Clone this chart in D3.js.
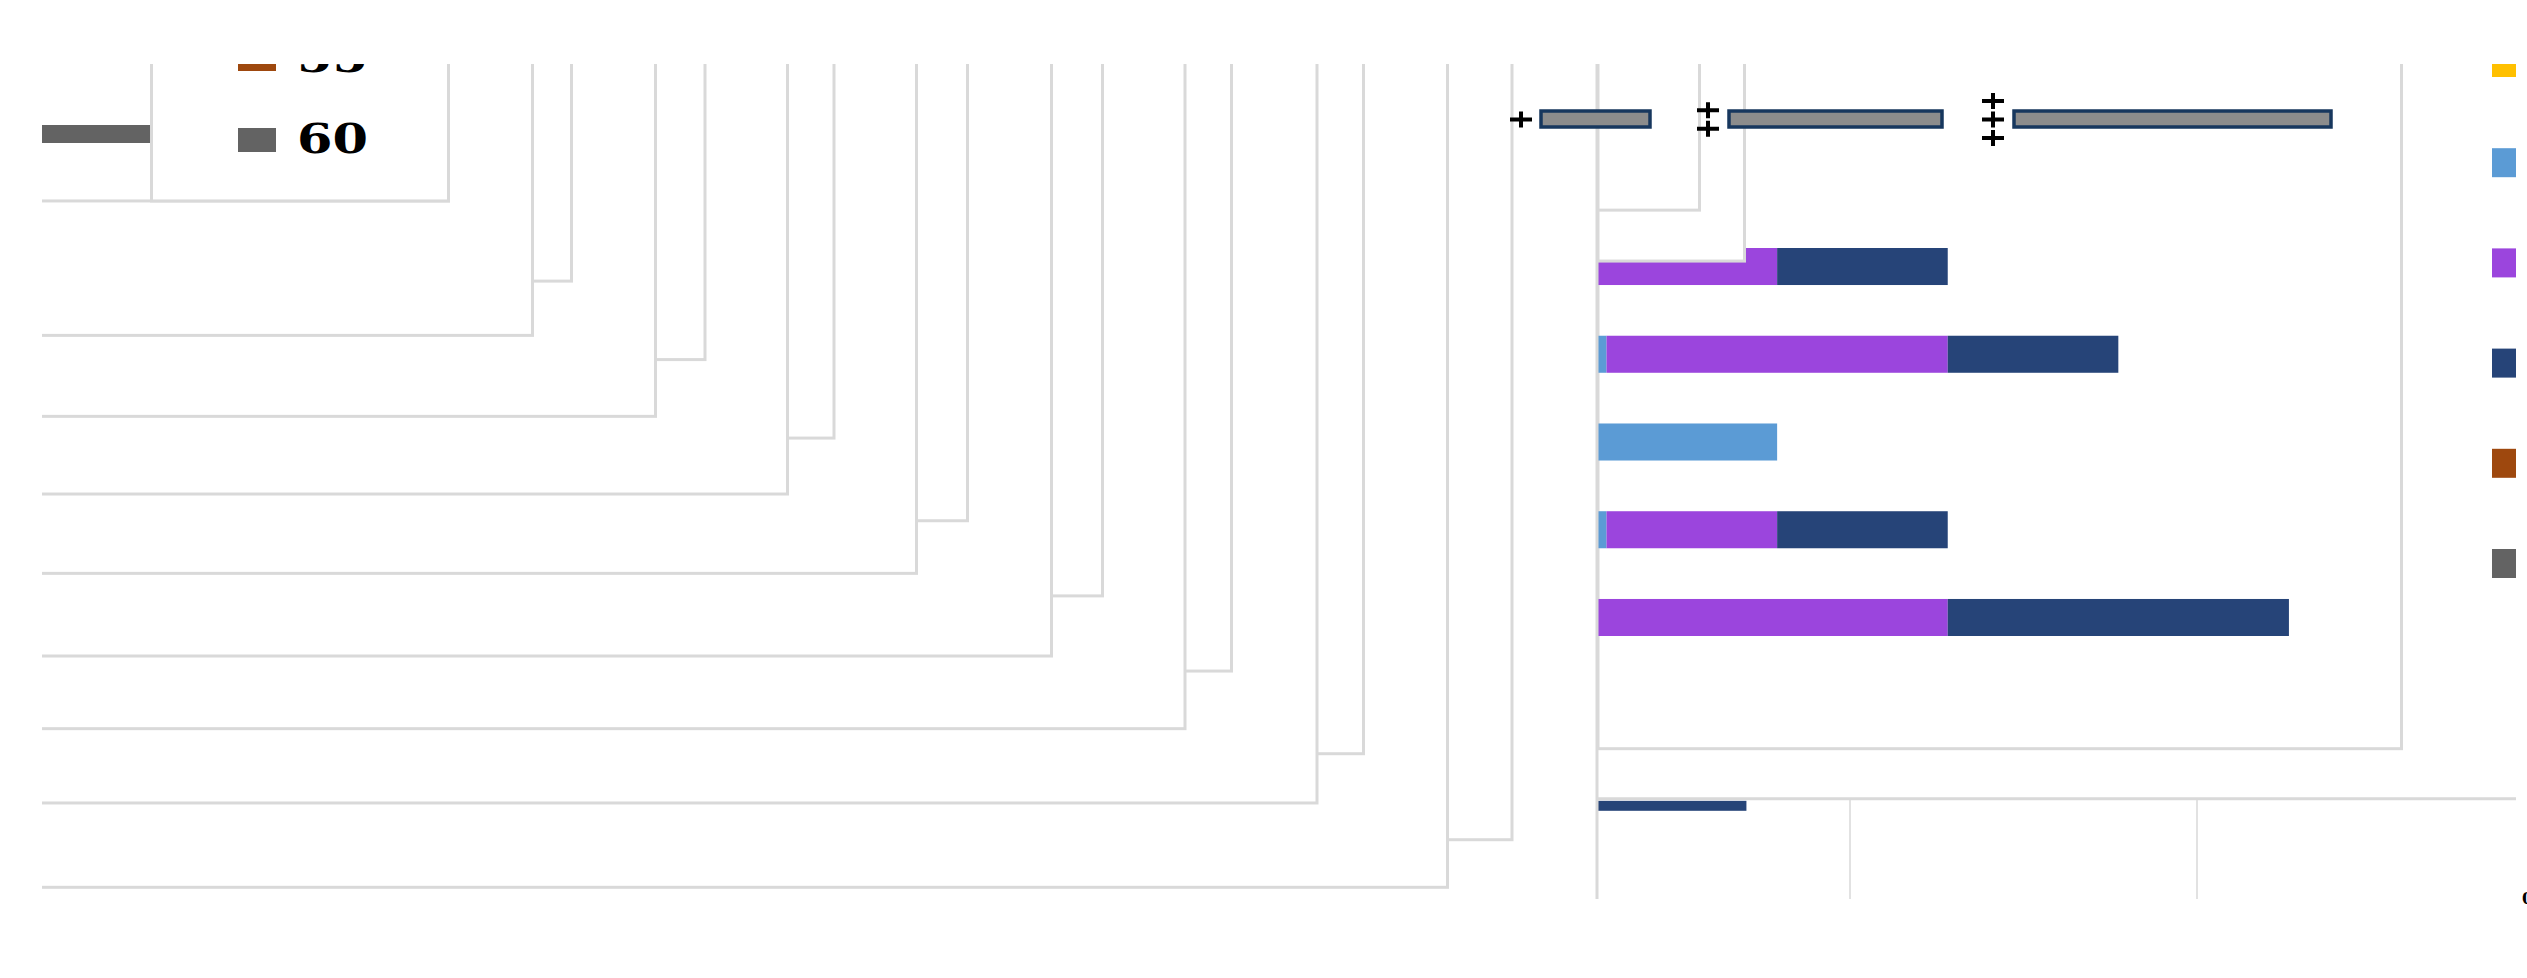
<!DOCTYPE html>
<html>
<head>
<meta charset="utf-8">
<script src="https://cdn.jsdelivr.net/npm/d3@7"></script>
<style>
  body { margin: 0; background: #fff; }
</style>
</head>
<body>
<div id="container"></div>
<script>
const seriesKeys = ["35", "40", "45", "50", "55", "60"];
const seriesColors = ["#ffc000", "#5b9bd5", "#9b45dd", "#264478", "#9e480e", "#636363"];

const rows = ["r1", "r2", "r3", "r4", "r5"];
const v40 = [0, 1, 21, 1, 0];
const v45 = [21, 40, 0, 20, 41];
const v50 = [20, 20, 0, 20, 40];
const footBar = [17.4];

const boxLow = [4.1, 22.9, 51.4];
const boxHigh = [15.0, 44.2, 83.1];
const boxOutliers = [[2.1], [20.8, 20.8], [49.3, 49.3, 49.3]];

// leftover panel borders, drawn back to front
const frameRight = [98.0, 93.7, 88.1, 85.0, 79.3, 76.2, 70.7, 67.3, 61.7, 58.3, 52.8, 49.7, 44.2, 40.9, 35.3, 32.7, 27.1];
const frameBottom = [92.9, 98.6, 82.6, 88.5, 72.7, 79.6, 63.7, 70.9, 54.7, 61.0, 44.8, 51.5, 35.4, 42.2, 26.0, 32.5, 16.4];
const plotFrameRight = [157.3, 113.5, 110.5];
const plotFrameBottom = [82.0, 23.6, 17.5];
const footTicks = [1, 2];

const data = rows.map((r, i) => ({row: r, "40": v40[i], "45": v45[i], "50": v50[i]}));
const color = d3.scaleOrdinal(seriesKeys, seriesColors);

const W = 2527, H = 978;
const clipTop = 64;
const gridColor = "#d9d9d9";

const svg = d3.select("#container")
  .append("svg")
  .attr("width", W)
  .attr("height", H)
  .style("display", "block");

svg.append("defs").append("clipPath")
  .attr("id", "clip")
  .append("rect")
  .attr("x", 42).attr("y", clipTop)
  .attr("width", 2516 - 42).attr("height", H - clipTop);

const g = svg.append("g").attr("clip-path", "url(#clip)");

// scales
const fx = d3.scaleLinear().domain([0, 100]).range([42, 1542]);
const fy = d3.scaleLinear().domain([0, 100]).range([64, 899]);
const x = d3.scaleLinear().domain([0, 100]).range([1598, 2451]);
const y = d3.scaleBand().domain(rows).range([248, 636]).paddingInner(0.578);
const boxX = d3.scaleLinear().domain([0, 100]).range([1500, 2500]);
const footX = d3.scaleLinear().domain([0, 3]).range([1503, 2544]);

const frame = (sel, x0, x1, y1) => sel.append("rect")
  .attr("x", x0).attr("y", fy(-10))
  .attr("width", x1 - x0).attr("height", y1 - fy(-10))
  .attr("fill", "#fff")
  .attr("stroke", gridColor)
  .attr("stroke-width", 3);

// staircase of panel borders on the left
frameRight.forEach((r, i) => frame(g, fx(-5), fx(r), fy(frameBottom[i])));

// stray bar behind the legend box
g.append("rect")
  .attr("x", fx(-5)).attr("y", 125)
  .attr("width", fx(12) - fx(-5)).attr("height", 18)
  .attr("fill", color("60"));

// left legend box + items (only the ones that reach into view)
frame(g, fx(7.3), fx(27.1), fy(16.4));
const ly = d3.scalePoint().domain(seriesKeys).range([140 - 5 * 81, 140]);
const shownKeys = seriesKeys.filter(k => ly(k) + 13 > clipTop);
const li = g.selectAll("g.li").data(shownKeys).join("g")
  .attr("class", "li")
  .attr("transform", d => `translate(0,${ly(d)})`);
li.append("rect")
  .attr("x", 238).attr("y", -12).attr("width", 38).attr("height", 24)
  .attr("fill", d => color(d));
li.append("text")
  .attr("x", 297).attr("y", 13)
  .attr("font-family", "'DejaVu Serif', serif")
  .attr("font-weight", "bold")
  .attr("font-size", 41)
  .attr("textLength", 71)
  .attr("lengthAdjust", "spacingAndGlyphs")
  .text(d => d);

// plot frame behind the bars
frame(g, x(0), fx(plotFrameRight[0]), fy(plotFrameBottom[0]));

// stacked bars
const stack = d3.stack().keys(["40", "45", "50"])(data);
g.append("g").selectAll("g")
  .data(stack).join("g")
  .attr("fill", d => color(d.key))
  .selectAll("rect")
  .data(d => d).join("rect")
  .attr("x", d => x(d[0]))
  .attr("y", d => y(d.data.row))
  .attr("width", d => x(d[1]) - x(d[0]))
  .attr("height", y.bandwidth());

// small frames drawn over the first row
frame(g, x(0), fx(plotFrameRight[1]), fy(plotFrameBottom[1]));
frame(g, x(0), fx(plotFrameRight[2]), fy(plotFrameBottom[2]));

// bottom panel
const footY = fy(88);
g.selectAll("line.foot-grid")
  .data(footTicks).join("line")
  .attr("class", "foot-grid")
  .attr("x1", d => footX(d)).attr("x2", d => footX(d))
  .attr("y1", footY).attr("y2", fy(100))
  .attr("stroke", gridColor).attr("stroke-width", 1.5);
g.selectAll("rect.foot-bar")
  .data(footBar).join("rect")
  .attr("class", "foot-bar")
  .attr("x", x(0)).attr("y", footY + 2)
  .attr("width", d => x(d) - x(0)).attr("height", 10)
  .attr("fill", color("50"));
g.append("line")
  .attr("x1", x(0) - 1).attr("x2", 2530)
  .attr("y1", footY).attr("y2", footY)
  .attr("stroke", gridColor).attr("stroke-width", 3);

// value axis line
g.append("line")
  .attr("x1", x(0) - 1).attr("x2", x(0) - 1)
  .attr("y1", fy(-10)).attr("y2", fy(100))
  .attr("stroke", gridColor).attr("stroke-width", 3);

// box row
const boxY = 119.5;
const boxes = boxLow.map((lo, i) => ({lo, hi: boxHigh[i], out: boxOutliers[i]}));
g.selectAll("rect.box")
  .data(boxes).join("rect")
  .attr("class", "box")
  .attr("x", d => boxX(d.lo)).attr("y", boxY - 8.5)
  .attr("width", d => boxX(d.hi) - boxX(d.lo)).attr("height", 16)
  .attr("fill", "#8c8c8c")
  .attr("stroke", "#17375e")
  .attr("stroke-width", 3.5);
const outs = boxes.flatMap(b => b.out.map((v, j) => ({v, off: (j - (b.out.length - 1) / 2) * 18.5})));
g.selectAll("path.out")
  .data(outs).join("path")
  .attr("class", "out")
  .attr("transform", d => `translate(${boxX(d.v)},${boxY + d.off})`)
  .attr("d", "M-11,0H11M0,-8V8")
  .attr("stroke", "#000")
  .attr("stroke-width", 4);

// right legend swatches (labels fall past the edge)
const ry = d3.scalePoint().domain(seriesKeys).range([48, 549]);
g.selectAll("rect.rl")
  .data(seriesKeys).join("rect")
  .attr("class", "rl")
  .attr("x", 2492).attr("y", d => ry(d))
  .attr("width", 29).attr("height", 29)
  .attr("fill", d => color(d));

// clipped tick label at the far right
svg.append("text")
  .attr("x", 2522).attr("y", 904)
  .attr("font-family", "'DejaVu Serif', serif")
  .attr("font-weight", "bold")
  .attr("font-size", 16)
  .text("0");
</script>
</body>
</html>
